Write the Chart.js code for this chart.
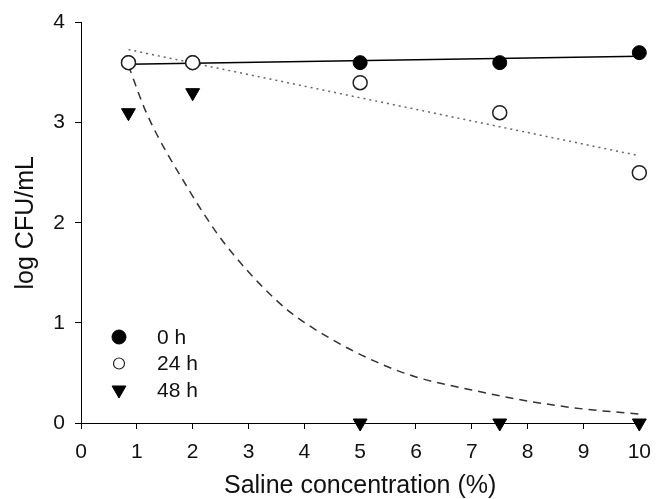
<!DOCTYPE html>
<html>
<head>
<meta charset="utf-8">
<script src="https://cdn.jsdelivr.net/npm/chart.js@4.4.8/dist/chart.umd.min.js"></script>
<style>
  html, body { margin: 0; padding: 0; background: #fff; overflow: hidden; }
  canvas { display: block; }
</style>
</head>
<body>
<canvas id="myChart" width="662" height="499" style="width:662px;height:499px"></canvas>
<script>
// saline concentration (%) of the samples
const salineX = [0.85, 2, 5, 7.5, 10];
// log CFU/mL
const h0 = [3.6, 3.6, 3.6, 3.6, 3.7];
const h24 = [3.6, 3.6, 3.4, 3.1, 2.5];
const h48 = [3.1, 3.3, 0, 0, 0];
// fitted lines (end points)
const fitX = [0.85, 10];
const fit0 = [3.585, 3.665];
const fit24 = [3.73, 2.67];
// 48 h decay curve
const curveX = [0.85, 1.17, 1.92, 2.43, 2.75, 3.2, 3.74, 4.51, 5.29, 6, 7, 8, 9, 10];
const curveY = [3.57, 3.1, 2.34, 1.9, 1.67, 1.39, 1.11, 0.83, 0.61, 0.46, 0.33, 0.22, 0.14, 0.09];
const legendLabels = ['0 h', '24 h', '48 h'];

const FONT = "'Liberation Sans', Arial, sans-serif";

function pts(xs, ys) {
  return xs.map((x, i) => ({ x: x, y: ys[i] }));
}

// legend drawn inside the plot, bottom left
const insideLegend = {
  id: 'insideLegend',
  afterDraw(chart) {
    const c = chart.ctx;
    const styles = [
      { pointStyle: 'circle', radius: 7, rotation: 0, fill: '#000', stroke: '#000', borderWidth: 1 },
      { pointStyle: 'circle', radius: 5.5, rotation: 0, fill: '#fff', stroke: '#222', borderWidth: 1.2 },
      { pointStyle: 'triangle', radius: 8, rotation: 180, fill: '#000', stroke: '#000', borderWidth: 1 }
    ];
    c.save();
    c.font = '21px ' + FONT;
    c.textBaseline = 'middle';
    for (let i = 0; i < 3; i++) {
      const y = 337 + i * 26.5;
      c.fillStyle = styles[i].fill;
      c.strokeStyle = styles[i].stroke;
      c.lineWidth = styles[i].borderWidth;
      Chart.helpers.drawPoint(c, styles[i], 119, y);
      c.fillStyle = '#111';
      c.fillText(legendLabels[i], 157, y + 1);
    }
    c.restore();
  }
};

new Chart(document.getElementById('myChart'), {
  type: 'scatter',
  data: {
    datasets: [
      {
        label: 'fit 0 h', type: 'line', data: pts(fitX, fit0),
        borderColor: '#000', borderWidth: 1.5, pointRadius: 0, fill: false, order: 10
      },
      {
        label: 'fit 24 h', type: 'line', data: pts(fitX, fit24),
        borderColor: '#666', borderWidth: 1.5, borderDash: [2, 4], pointRadius: 0, fill: false, order: 10
      },
      {
        label: 'fit 48 h', type: 'line', data: pts(curveX, curveY),
        borderColor: '#333', borderWidth: 1.5, borderDash: [8, 6], pointRadius: 0, fill: false,
        cubicInterpolationMode: 'monotone', order: 10
      },
      {
        label: '0 h', data: pts(salineX, h0),
        pointStyle: 'circle', pointRadius: 7, backgroundColor: '#000', borderColor: '#000', borderWidth: 1, order: 3
      },
      {
        label: '24 h', data: pts(salineX, h24),
        pointStyle: 'circle', pointRadius: 7, backgroundColor: '#fff', borderColor: '#222', borderWidth: 1.5, order: 2
      },
      {
        label: '48 h', data: pts(salineX, h48),
        pointStyle: 'triangle', pointRotation: 180, pointRadius: 8, backgroundColor: '#000', borderColor: '#000', borderWidth: 1, order: 1
      }
    ]
  },
  options: {
    responsive: false,
    animation: false,
    clip: false,
    layout: { padding: { top: 21, right: 14, left: 0, bottom: 0 } },
    plugins: {
      legend: { display: false },
      tooltip: { enabled: false }
    },
    scales: {
      x: {
        type: 'linear', min: 0, max: 10,
        afterFit(s) { s.height = 76; },
        grid: { display: true, drawOnChartArea: false, drawTicks: true, tickLength: 6, tickColor: '#000' },
        border: { display: true, color: '#000', width: 1 },
        ticks: { stepSize: 1, color: '#111', padding: 11, font: { family: FONT, size: 21 } },
        title: { display: true, text: 'Saline concentration (%)', color: '#111', padding: { top: 0, bottom: 0 }, font: { family: FONT, size: 25, lineHeight: 1 } }
      },
      y: {
        type: 'linear', min: 0, max: 4,
        afterFit(s) { s.width = 81; },
        grid: { display: true, drawOnChartArea: false, drawTicks: true, tickLength: 6, tickColor: '#000' },
        border: { display: true, color: '#000', width: 1 },
        ticks: { stepSize: 1, color: '#111', padding: 10, font: { family: FONT, size: 21 } },
        title: { display: true, text: 'log CFU/mL', color: '#111', padding: { top: 14, bottom: 0 }, font: { family: FONT, size: 25, lineHeight: 1 } }
      }
    }
  },
  plugins: [insideLegend]
});
</script>
</body>
</html>
